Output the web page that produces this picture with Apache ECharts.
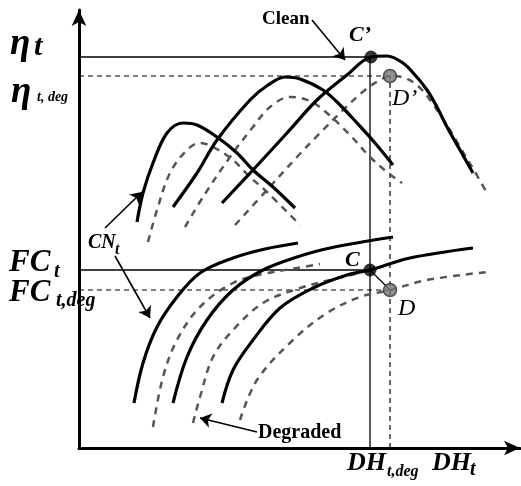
<!DOCTYPE html>
<html>
<head>
<meta charset="utf-8">
<script src="https://cdn.jsdelivr.net/npm/echarts@6/dist/echarts.min.js"></script>
<style>html,body{margin:0;padding:0;background:#fff}#c{width:521px;height:486px}</style>
</head>
<body>
<div id="c"></div>
<script>
// Schematic units: x = distance along DH axis, y = height above DH axis
const effClean1 = [[58,226],[64,255],[74,285],[88,315],[104,325],[118,323],[138,311],[158,295],[174,278],[194,261],[216,240]];
const effDeg1   = [[69,206],[78,238],[91,275],[108,298],[121,305],[134,301],[154,288],[171,271],[188,256],[221,223]];
const effClean2 = [[94,241],[118,275],[138,308],[171,348],[189,363],[206,371],[221,369],[244,358],[261,343],[278,325],[296,305],[314,283]];
const effDeg2   = [[106,221],[124,251],[151,291],[174,321],[191,341],[211,351],[231,347],[248,335],[271,313],[291,291],[308,276],[323,265]];
const effClean3 = [[143,245],[174,278],[208,315],[238,348],[268,373],[292,391],[308,392],[324,385],[336,373],[348,358],[358,341],[368,321],[381,298],[394,275]];
const effDeg3   = [[156,223],[188,258],[218,291],[241,315],[264,338],[286,358],[301,368],[311,372],[326,370],[339,362],[351,348],[366,326],[381,301],[396,276],[408,255]];

const fcClean1 = [[55,45],[64,85],[78,121],[98,151],[121,175],[154,190],[186,199],[219,205]];
const fcClean2 = [[94,45],[108,91],[128,128],[154,158],[184,178],[218,191],[251,200],[314,211]];
const fcClean3 = [[143,45],[154,78],[174,108],[201,140],[234,160],[268,173],[291,178],[331,190],[394,200]];
const fcDeg1   = [[74,21],[84,71],[98,108],[121,141],[154,165],[184,174],[218,180],[241,184]];
const fcDeg2   = [[114,25],[121,51],[134,91],[154,118],[184,145],[218,159],[251,168],[281,175]];
const fcDeg3   = [[161,28],[178,68],[214,108],[248,135],[281,151],[311,158],[348,168],[408,176]];

// Operating points: C', C (clean) and D', D (degraded)
const cleanPoints = [[292,391],[291,178]];
const degPoints   = [[311,372],[311,158]];
const etaClean = 391, etaDeg = 372, fcClean = 178, fcDeg = 158;
const dhClean = 291, dhDeg = 311;

// Annotation arrows [from, to]
const arrowClean = [[233,428],[266,388]];
const arrowCNup  = [[26,220],[63,256]];
const arrowCNdn  = [[36,192],[71,130]];
const arrowDeg   = [[178,16],[121,30]];
const linkCD     = [[291,178],[311,158]];

const SER = 'Liberation Serif';
function curve(d, dashed){
  return {type:'line', data:d, smooth:0.35, symbol:'none', silent:true, z:3,
    lineStyle: dashed ? {color:'#555', width:2.5, type:[7,6]} : {color:'#000', width:3.2}};
}
function seg(d, dashed){
  return {type:'line', data:d, symbol:'none', silent:true, z:2,
    lineStyle: dashed ? {color:'#000', width:1.2, type:[5,4]} : {color:'#000', width:1.3}};
}
function arrow(d){
  return {type:'lines', coordinateSystem:'cartesian2d', silent:true, z:4,
    symbol:['none','arrow'], symbolSize:11,
    lineStyle:{color:'#000', width:1.6, opacity:1},
    data:[{coords:d}]};
}
function txt(x,y,t,size,style,weight,color){
  return {type:'text', x:x, y:y, z:10, style:{text:t, fill:color||'#000',
    font:(style||'normal')+' '+(weight||'bold')+' '+size+'px "'+SER+'"', verticalAlign:'middle', align:'left'}};
}

const chart = echarts.init(document.getElementById('c'), null, {renderer:'canvas'});
chart.setOption({
  animation:false,
  backgroundColor:'#fff',
  grid:{left:79, right:1, top:10, bottom:38},
  xAxis:{type:'value', min:0, max:441, axisLine:{lineStyle:{color:'#000', width:3}, symbol:['none','arrow'], symbolSize:[11,16]},
    axisTick:{show:false}, axisLabel:{show:false}, splitLine:{show:false}},
  yAxis:{type:'value', min:0, max:438, axisLine:{show:true, lineStyle:{color:'#000', width:3}, symbol:['none','arrow'], symbolSize:[11,16]},
    axisTick:{show:false}, axisLabel:{show:false}, splitLine:{show:false}},
  series:[
    seg([[0,etaClean],[dhClean,etaClean]], false),
    seg([[0,etaDeg],[dhDeg,etaDeg]], true),
    seg([[dhClean,0],[dhClean,etaClean]], false),
    seg([[dhDeg,0],[dhDeg,etaDeg]], true),
    seg([[0,fcClean],[dhClean,fcClean]], false),
    seg([[0,fcDeg],[dhDeg,fcDeg]], true),
    seg(linkCD, false),
    curve(effDeg1,true), curve(effDeg2,true), curve(effDeg3,true),
    curve(fcDeg1,true), curve(fcDeg2,true), curve(fcDeg3,true),
    curve(effClean1,false), curve(effClean2,false), curve(effClean3,false),
    curve(fcClean1,false), curve(fcClean2,false), curve(fcClean3,false),
    arrow(arrowClean), arrow(arrowCNup), arrow(arrowCNdn), arrow(arrowDeg),
    {type:'scatter', data:cleanPoints, symbolSize:13, z:6, silent:true, itemStyle:{color:'#000'}},
    {type:'scatter', data:degPoints, symbolSize:13, z:6, silent:true, itemStyle:{color:'#777', borderColor:'#333', borderWidth:1.5}}
  ],
  graphic:[
    txt(10,44,'η',37,'italic'), txt(34,47,'t',30,'italic'),
    txt(11,92,'η',37,'italic'), txt(37,97,'t, deg',14,'italic'),
    txt(9,263,'FC',31,'italic'), txt(54,272,'t',20,'italic'),
    txt(9,293,'FC',31,'italic'), txt(56,301,'t,deg',20,'italic'),
    txt(347,463,'DH',26,'italic'), txt(387,472,'t,deg',16,'italic'),
    txt(432,463,'DH',26,'italic'), txt(470,470,'t',20,'italic'),
    txt(262,19,'Clean',19,'normal'),
    txt(258,433,'Degraded',20,'normal'),
    txt(88,243,'CN',20,'italic'), txt(115,250,'t',16,'italic'),
    txt(349,35,'C’',22,'italic'),
    txt(392,99,'D’',24,'italic','normal'),
    txt(345,260,'C',22,'italic'),
    txt(398,309,'D',24,'italic','normal')
  ]
});
</script>
</body>
</html>
